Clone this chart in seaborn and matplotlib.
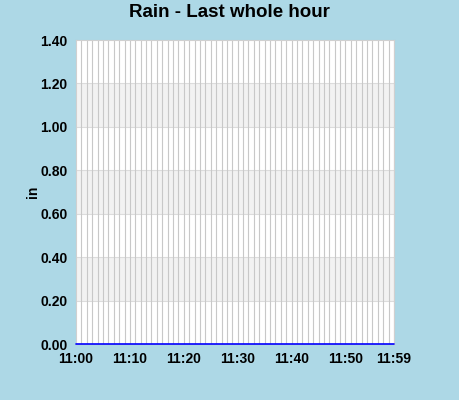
import seaborn as sns
import matplotlib.pyplot as plt
import numpy as np
import pandas as pd

# rain in the last whole hour, one value per minute (all zero)
minutes = list(range(60))
rain = [0.0] * 60
tick_pos = [0, 10, 20, 30, 40, 50, 59]
tick_labels = ['11:00', '11:10', '11:20', '11:30', '11:40', '11:50', '11:59']
y_ticks = [0.0, 0.2, 0.4, 0.6, 0.8, 1.0, 1.2, 1.4]

sns.set_style('white')
plt.rcParams['font.family'] = ['Liberation Sans', 'DejaVu Sans']
plt.rcParams['text.color'] = 'black'
plt.rcParams['xtick.color'] = 'black'
plt.rcParams['ytick.color'] = 'black'
plt.rcParams['axes.labelcolor'] = 'black'

df = pd.DataFrame({'minute': minutes, 'rain': rain})

fig = plt.figure(figsize=(4.6, 4.0), dpi=100, facecolor='#add8e6')
ax = fig.add_axes([76 / 460, 56 / 400, 318 / 460, 304 / 400])
ax.set_facecolor('white')

# alternating bands
for k in range(1, len(y_ticks) - 1, 2):
    ax.axhspan(y_ticks[k], y_ticks[k + 1], color='#f2f2f2', zorder=0, lw=0)
for y in y_ticks[1:-1]:
    ax.axhline(y, color='#dcdcdc', lw=0.8, zorder=1)
for m in minutes[1:]:
    ax.axvline(m, color='#c8c8c8', lw=0.8, zorder=1)

sns.lineplot(data=df, x='minute', y='rain', ax=ax, color='blue', lw=1.2)
for ln in ax.get_lines()[-1:]:
    ln.set_zorder(5)
    ln.set_clip_on(False)

ax.set_xlim(0, 59)
ax.set_ylim(0, 1.4)
ax.set_xticks(tick_pos)
ax.set_xticklabels(tick_labels, fontsize=10, fontweight='bold')
ax.set_yticks(y_ticks)
ax.set_yticklabels(['%.2f' % v for v in y_ticks], fontsize=10, fontweight='bold')
ax.tick_params(length=0, pad=6)
ax.set_xlabel('')
ax.set_ylabel('in', fontsize=10, fontweight='bold', labelpad=0)
for s in ax.spines.values():
    s.set_color('#d0d0d0')
    s.set_linewidth(0.8)
    s.set_zorder(2)

fig.text(0.498, 0.968, 'Rain - Last whole hour', ha='center', va='center',
         fontsize=13.5, fontweight='bold')

fig.savefig('out.png', dpi=100, facecolor=fig.get_facecolor())
